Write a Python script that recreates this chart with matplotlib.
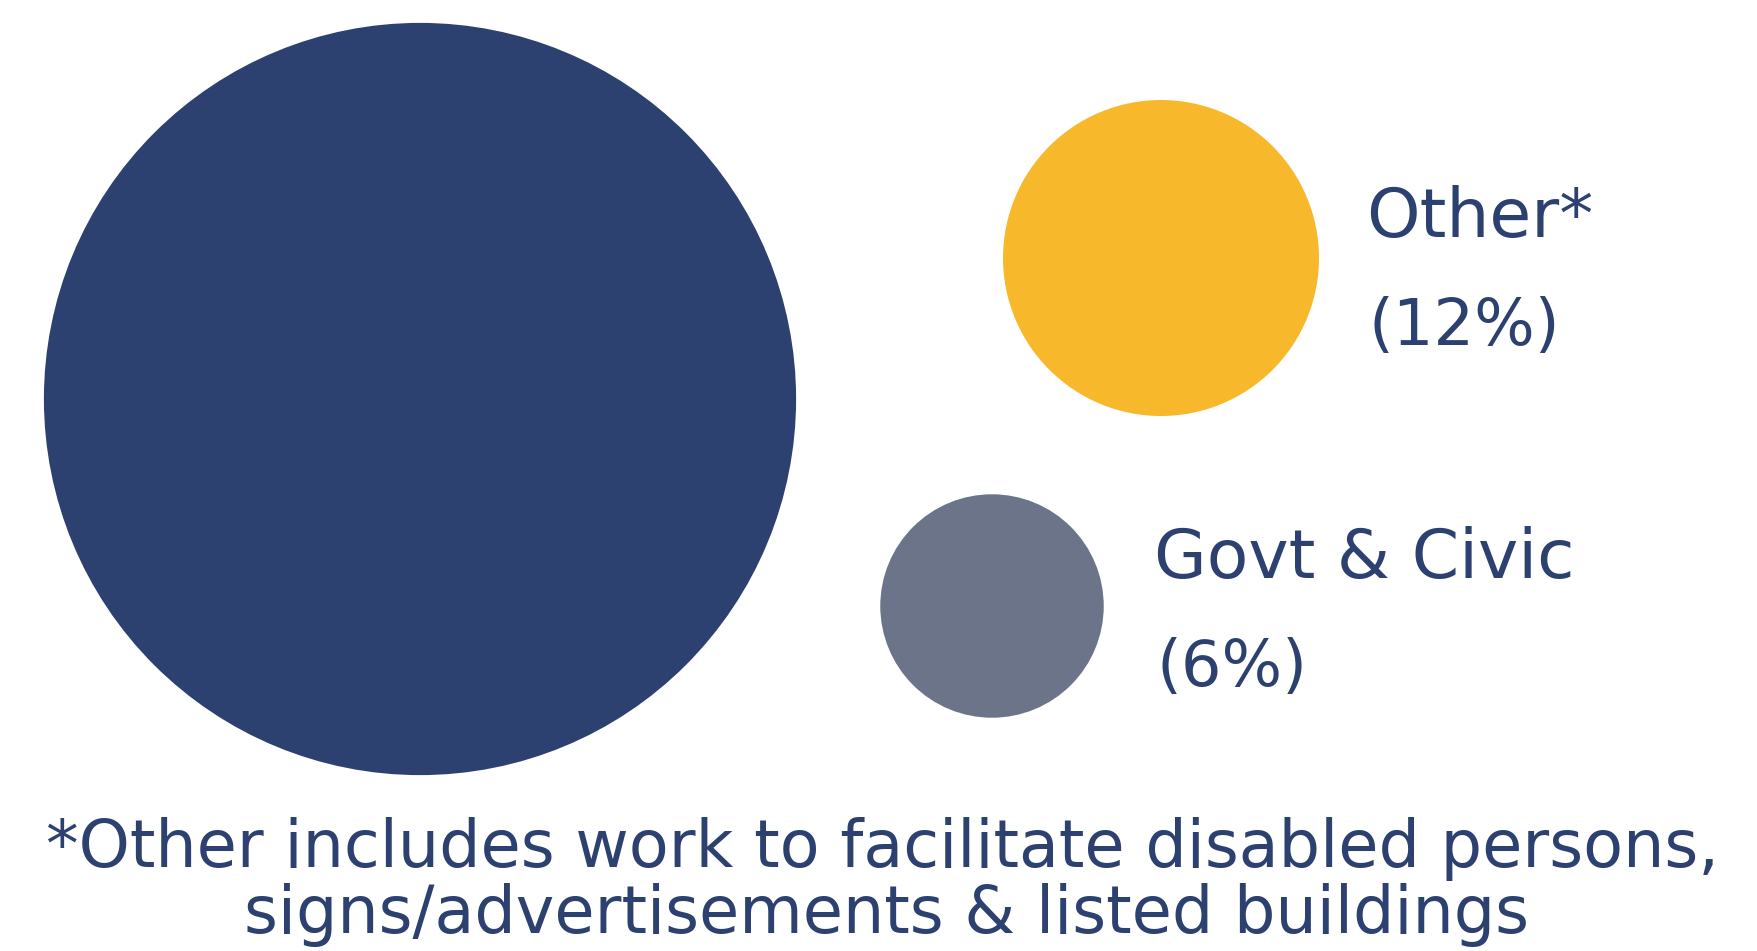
import matplotlib
matplotlib.use("Agg")
import matplotlib.pyplot as plt
from matplotlib.patches import Circle
import numpy as np

# shares (%) shown as bubble areas
categories = ["Main", "Other*", "Govt & Civic"]
shares = [68, 12, 6]
labels = ["", "Other*\n(12%)", "Govt & Civic\n(6%)"]
colors = ["#2C4170", "#F7B82B", "#6B7488"]
footnote = ("*Other includes work to facilitate disabled persons,\n"
            "signs/advertisements & listed buildings")

navy = "#2C4170"

W, H = 1757, 951
fig = plt.figure(figsize=(W / 100, H / 100), dpi=100)
ax = fig.add_axes([0, 0, 1, 1])
ax.set_xlim(0, W)
ax.set_ylim(H, 0)
ax.set_aspect("equal")
ax.axis("off")

# layout (pixel units)
centers = [(420, 399), (1161, 258), (992, 606)]
label_pos = [None, (1366, 237), (1154, 578)]
scale = 158 / np.sqrt(12)

for share, c, col, lab, lp in zip(shares, centers, colors, labels, label_pos):
    r = scale * np.sqrt(share)
    ax.add_patch(Circle(c, r, facecolor=col, edgecolor="none"))
    if lp is not None:
        first, second = lab.split("\n")
        ax.text(lp[0], lp[1], first, color=navy, fontsize=49,
                ha="left", va="baseline", family="DejaVu Sans")
        ax.text(lp[0] + 2, lp[1] + 108, second, color=navy, fontsize=46,
                ha="left", va="baseline", family="DejaVu Sans")

lines = footnote.split("\n")
ax.text(W / 2 + 4, 867, lines[0], color=navy, fontsize=47,
        ha="center", va="baseline", family="DejaVu Sans")
ax.text(W / 2 + 8, 933, lines[1], color=navy, fontsize=47,
        ha="center", va="baseline", family="DejaVu Sans")

fig.savefig("out.png", dpi=100, facecolor="white")
